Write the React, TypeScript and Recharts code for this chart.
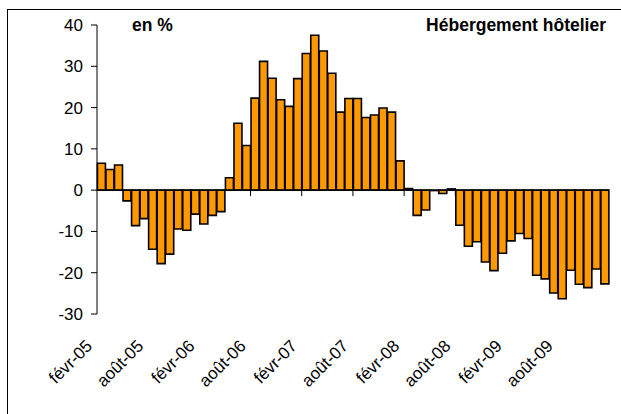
import { Bar, BarChart, ReferenceLine, Rectangle, XAxis, YAxis } from 'recharts';

// mois de févr-05 à janv-10
const mois = [
  'févr-05', 'mars-05', 'avr-05', 'mai-05', 'juin-05', 'juil-05', 'août-05', 'sept-05', 'oct-05', 'nov-05', 'déc-05',
  'janv-06', 'févr-06', 'mars-06', 'avr-06', 'mai-06', 'juin-06', 'juil-06', 'août-06', 'sept-06', 'oct-06', 'nov-06', 'déc-06',
  'janv-07', 'févr-07', 'mars-07', 'avr-07', 'mai-07', 'juin-07', 'juil-07', 'août-07', 'sept-07', 'oct-07', 'nov-07', 'déc-07',
  'janv-08', 'févr-08', 'mars-08', 'avr-08', 'mai-08', 'juin-08', 'juil-08', 'août-08', 'sept-08', 'oct-08', 'nov-08', 'déc-08',
  'janv-09', 'févr-09', 'mars-09', 'avr-09', 'mai-09', 'juin-09', 'juil-09', 'août-09', 'sept-09', 'oct-09', 'nov-09', 'déc-09',
  'janv-10'
];

const variation = [
  6.5, 5.0, 6.1, -2.6, -8.6, -6.9, -14.3, -17.8, -15.5, -9.4, -9.7,
  -5.8, -8.2, -6.1, -5.2, 3.0, 16.2, 10.8, 22.3, 31.2, 27.1, 21.9,
  20.3, 27.0, 33.1, 37.5, 33.7, 28.3, 18.9, 22.2, 22.2, 17.6, 18.2,
  19.9, 18.9, 7.1, 0.4, -6.1, -4.8, -0.1, -0.8, 0.3, -8.5, -13.6,
  -12.5, -17.4, -19.5, -15.3, -12.3, -10.5, -11.7, -20.6, -21.5, -24.9, -26.3,
  -19.4, -22.8, -23.6, -19.1, -22.7
];

const yTicks = [-30, -20, -10, 0, 10, 20, 30, 40];

const data = mois.map((m, i) => ({ mois: m, valeur: variation[i] }));

const font = '"Liberation Sans", Arial, sans-serif';

function MoisTick(props: any) {
  const ax = Number(props.x) - 8;
  const ay = Number(props.y) + 33;
  return (
    <g transform={`translate(${ax} ${ay}) rotate(-45)`}>
      <text x={0} y={0} textAnchor="end" fontSize={17} fill="#000" fontFamily={font}>
        {props.payload.value}
      </text>
    </g>
  );
}

function Barre(props: any) {
  const { x, y, width, height, index } = props;
  const zero = y + height;
  return (
    <g>
      {index > 0 && index % 6 === 0 && (
        <line x1={x - 0.5} x2={x - 0.5} y1={zero} y2={zero + 6} stroke="#000" strokeWidth={1} />
      )}
      <Rectangle x={x} y={y} width={width} height={height} fill="#FF9900" stroke="#000" strokeWidth={1.6} />
    </g>
  );
}

export default function App() {
  return (
    <div style={{ position: 'fixed', left: 0, top: 0, width: 621, height: 414, overflow: 'hidden', background: '#fff', fontFamily: font }}>
      <div style={{ position: 'absolute', left: 7, top: 9, width: 700, height: 500, border: '1px solid #000' }} />
      <BarChart width={621} height={414} data={data} margin={{ top: 25, right: 12, bottom: 0, left: 0 }} barCategoryGap="5%">
        <YAxis
          width={97}
          domain={[-30, 40]}
          ticks={yTicks}
          interval={0}
          tickSize={6}
          tickMargin={8}
          axisLine={{ stroke: '#000' }}
          tickLine={{ stroke: '#000' }}
          tick={{ fontSize: 17, fill: '#000', fontFamily: font }}
        />
        <XAxis dataKey="mois" height={100} interval={5} axisLine={false} tickLine={false} tickSize={0} tickMargin={0} tick={MoisTick} />
        <ReferenceLine y={0} stroke="#000" strokeWidth={1} />
        <Bar dataKey="valeur" shape={Barre} isAnimationActive={false} />
      </BarChart>
      <div style={{ position: 'absolute', left: 132, top: 15, fontSize: 17.5, fontWeight: 'bold', lineHeight: '20px' }}>en %</div>
      <div style={{ position: 'absolute', right: 15, top: 15, fontSize: 17.5, fontWeight: 'bold', lineHeight: '20px' }}>Hébergement hôtelier</div>
    </div>
  );
}
